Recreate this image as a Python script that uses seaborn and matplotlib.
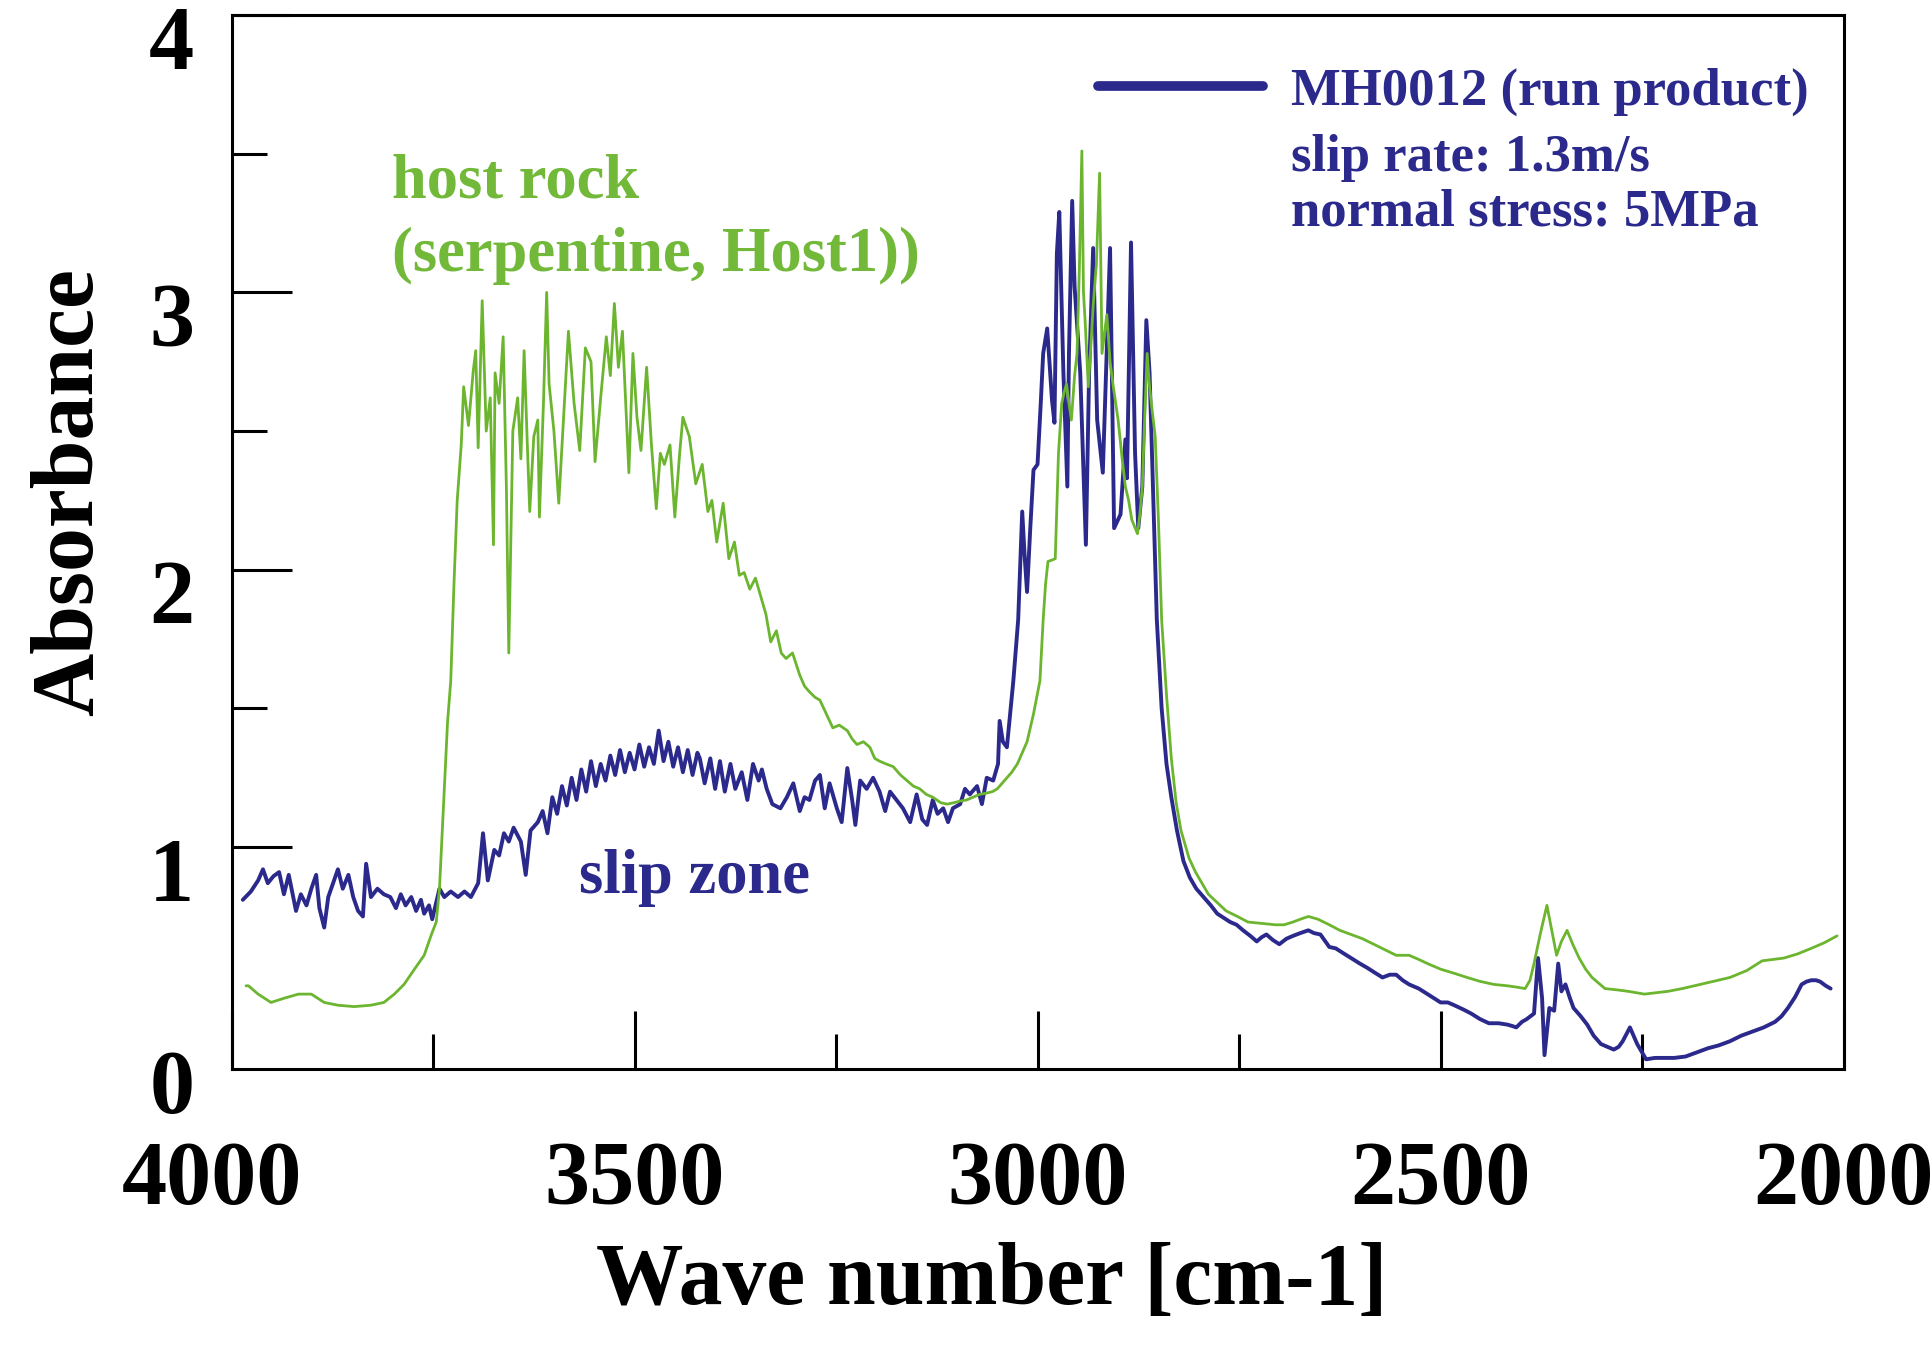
import matplotlib
matplotlib.use("Agg")
import matplotlib.pyplot as plt
import numpy as np
import pandas as pd
import seaborn as sns
from matplotlib.lines import Line2D
from matplotlib.transforms import ScaledTranslation

# ---- FT-IR spectra (wavenumber in cm-1, absorbance) ----
host_wavenumber = [
    3982, 3979, 3967, 3951, 3935, 3917, 3901, 3885, 3868, 3848,
    3827, 3811, 3798, 3786, 3773, 3761, 3752, 3746, 3742, 3738,
    3732, 3728, 3724, 3720, 3715, 3712, 3706, 3700, 3697, 3694,
    3689, 3684, 3679, 3675, 3673, 3668, 3663, 3659, 3656, 3651,
    3645, 3641, 3637, 3633, 3630, 3625, 3620, 3618, 3613, 3609,
    3606, 3600, 3594, 3588, 3582, 3575, 3568, 3561, 3554, 3549,
    3542, 3535, 3530, 3525, 3520, 3515, 3507, 3502, 3497, 3492,
    3485, 3479, 3473, 3468, 3463, 3456, 3450, 3444, 3440, 3432,
    3424, 3416, 3409, 3404, 3398, 3390, 3383, 3376, 3370, 3364,
    3357, 3350, 3343, 3337, 3331, 3324, 3318, 3312, 3304, 3295,
    3289, 3283, 3276, 3270, 3262, 3254, 3246, 3236, 3230, 3224,
    3216, 3208, 3202, 3196, 3188, 3179, 3170, 3162, 3154, 3146,
    3138, 3130, 3120, 3112, 3104, 3096, 3088, 3080, 3072, 3063,
    3056, 3050, 3044, 3038, 3032, 3025, 3019, 3013, 3009, 3005,
    3001, 2997, 2993, 2990, 2987, 2982, 2978, 2974, 2970, 2967,
    2964, 2961, 2958, 2954, 2951, 2948, 2945, 2943, 2941, 2937,
    2934, 2931, 2927, 2923, 2920, 2917, 2914, 2910, 2906, 2900,
    2895, 2891, 2887, 2883, 2876, 2873, 2870, 2867, 2864, 2861,
    2858, 2854, 2850, 2846, 2840, 2834, 2828, 2822, 2812, 2804,
    2796, 2788, 2777, 2766, 2752, 2739, 2722, 2705, 2694, 2683,
    2674, 2664, 2652, 2638, 2625, 2611, 2597, 2583, 2569, 2555,
    2539, 2527, 2516, 2500, 2483, 2467, 2451, 2434, 2417, 2405,
    2395, 2389, 2384, 2376, 2368, 2362, 2356, 2350, 2343, 2336,
    2328, 2320, 2312, 2304, 2296, 2280, 2267, 2247, 2232, 2218,
    2200, 2185, 2163, 2141, 2120, 2101, 2088, 2074, 2057, 2040,
    2024, 2008,
]
host_absorbance = [
    0.50, 0.50, 0.47, 0.44, 0.455, 0.47, 0.47, 0.44, 0.43, 0.425,
    0.43, 0.44, 0.47, 0.505, 0.56, 0.61, 0.685, 0.73, 0.85, 1.09,
    1.45, 1.60, 1.95, 2.25, 2.45, 2.66, 2.52, 2.72, 2.79, 2.44,
    2.97, 2.50, 2.62, 2.09, 2.71, 2.60, 2.84, 2.30, 1.70, 2.50,
    2.62, 2.40, 2.79, 2.45, 2.21, 2.48, 2.54, 2.19, 2.60, 3.00,
    2.67, 2.50, 2.24, 2.55, 2.86, 2.60, 2.43, 2.80, 2.75, 2.39,
    2.62, 2.84, 2.70, 2.96, 2.73, 2.86, 2.35, 2.78, 2.55, 2.43,
    2.73, 2.45, 2.22, 2.42, 2.38, 2.45, 2.19, 2.42, 2.55, 2.48,
    2.31, 2.38, 2.21, 2.25, 2.10, 2.24, 2.04, 2.10, 1.98, 1.99,
    1.93, 1.97, 1.90, 1.84, 1.74, 1.78, 1.70, 1.68, 1.70, 1.62,
    1.58, 1.56, 1.54, 1.53, 1.48, 1.43, 1.44, 1.42, 1.39, 1.37,
    1.38, 1.36, 1.32, 1.31, 1.30, 1.29, 1.26, 1.24, 1.22, 1.21,
    1.19, 1.18, 1.16, 1.155, 1.16, 1.166, 1.17, 1.18, 1.19, 1.195,
    1.20, 1.21, 1.23, 1.25, 1.27, 1.30, 1.34, 1.38, 1.43, 1.48,
    1.54, 1.60, 1.82, 1.95, 2.03, 2.035, 2.04, 2.42, 2.60, 2.64,
    2.67, 2.60, 2.54, 2.70, 2.78, 3.10, 3.51, 3.00, 2.90, 2.66,
    2.80, 2.95, 3.10, 3.43, 2.78, 2.85, 2.92, 2.75, 2.66, 2.54,
    2.40, 2.30, 2.25, 2.18, 2.13, 2.20, 2.30, 2.55, 2.78, 2.66,
    2.58, 2.48, 2.18, 1.82, 1.55, 1.32, 1.16, 1.06, 0.96, 0.91,
    0.87, 0.83, 0.80, 0.77, 0.75, 0.73, 0.725, 0.72, 0.72, 0.73,
    0.74, 0.75, 0.74, 0.72, 0.70, 0.685, 0.67, 0.65, 0.63, 0.61,
    0.61, 0.595, 0.58, 0.56, 0.545, 0.53, 0.516, 0.505, 0.50, 0.495,
    0.49, 0.52, 0.58, 0.69, 0.79, 0.70, 0.61, 0.66, 0.70, 0.65,
    0.60, 0.56, 0.53, 0.51, 0.49, 0.485, 0.48, 0.47, 0.475, 0.48,
    0.49, 0.50, 0.515, 0.53, 0.555, 0.59, 0.595, 0.60, 0.615, 0.635,
    0.655, 0.68,
]

slip_wavenumber = [
    3986, 3976, 3967, 3961, 3955, 3948, 3941, 3935, 3929, 3920,
    3914, 3907, 3901, 3895, 3891, 3885, 3880, 3874, 3868, 3862,
    3855, 3849, 3843, 3837, 3833, 3827, 3819, 3811, 3803, 3796,
    3790, 3784, 3777, 3771, 3765, 3761, 3755, 3751, 3742, 3736,
    3728, 3719, 3711, 3703, 3694, 3688, 3682, 3674, 3668, 3662,
    3656, 3650, 3641, 3635, 3629, 3620, 3614, 3608, 3602, 3596,
    3590, 3584, 3578, 3572, 3566, 3560, 3554, 3548, 3542, 3536,
    3530, 3524, 3518, 3512, 3506, 3500, 3494, 3488, 3482, 3476,
    3470, 3464, 3458, 3452, 3446, 3440, 3434, 3428, 3422, 3419,
    3413, 3406, 3400, 3394, 3388, 3381, 3375, 3367, 3360, 3353,
    3346, 3342, 3336, 3329, 3319, 3311, 3303, 3295, 3289, 3283,
    3276, 3270, 3264, 3258, 3249, 3243, 3236, 3230, 3226, 3220,
    3212, 3204, 3196, 3189, 3183, 3175, 3167, 3158, 3150, 3143,
    3137, 3130, 3124, 3117, 3111, 3105, 3096, 3090, 3084, 3075,
    3069, 3063, 3055, 3049, 3047, 3043, 3038, 3034, 3030, 3024,
    3019, 3016, 3013, 3009, 3005, 3000, 2996, 2993, 2988, 2982,
    2979, 2976, 2973, 2968, 2963, 2961, 2957, 2954, 2947, 2940,
    2936, 2931, 2926, 2919, 2910, 2905, 2897, 2891, 2889, 2884,
    2879, 2875, 2870, 2865, 2861, 2858, 2852, 2846, 2840, 2834,
    2827, 2819, 2811, 2803, 2794, 2785, 2777, 2769, 2761, 2753,
    2745, 2736, 2728, 2722, 2716, 2708, 2700, 2691, 2683, 2674,
    2664, 2657, 2649, 2638, 2630, 2622, 2611, 2600, 2591, 2583,
    2572, 2563, 2555, 2547, 2539, 2527, 2516, 2508, 2500, 2491,
    2483, 2472, 2462, 2451, 2440, 2428, 2417, 2411, 2406, 2399,
    2393, 2384, 2379, 2374, 2371, 2365, 2359, 2354, 2350, 2345,
    2340, 2335, 2326, 2318, 2310, 2301, 2293, 2285, 2279, 2274,
    2265, 2256, 2250, 2245, 2234, 2224, 2210, 2196, 2182, 2168,
    2155, 2141, 2127, 2113, 2099, 2085, 2077, 2069, 2060, 2052,
    2046, 2040, 2034, 2029, 2022, 2016,
]
slip_absorbance = [
    0.81, 0.84, 0.88, 0.92, 0.87, 0.895, 0.91, 0.83, 0.90, 0.77,
    0.83, 0.79, 0.85, 0.90, 0.78, 0.71, 0.82, 0.87, 0.92, 0.85,
    0.90, 0.82, 0.77, 0.75, 0.94, 0.82, 0.85, 0.83, 0.82, 0.78,
    0.83, 0.79, 0.82, 0.77, 0.81, 0.76, 0.79, 0.74, 0.85, 0.82,
    0.84, 0.82, 0.84, 0.82, 0.87, 1.05, 0.88, 0.99, 0.97, 1.05,
    1.02, 1.07, 1.02, 0.90, 1.06, 1.09, 1.13, 1.05, 1.18, 1.12,
    1.22, 1.15, 1.25, 1.17, 1.28, 1.20, 1.31, 1.22, 1.30, 1.24,
    1.33, 1.26, 1.35, 1.27, 1.34, 1.28, 1.37, 1.29, 1.36, 1.30,
    1.42, 1.31, 1.38, 1.29, 1.36, 1.27, 1.35, 1.26, 1.34, 1.32,
    1.23, 1.32, 1.21, 1.31, 1.20, 1.30, 1.21, 1.27, 1.17, 1.30,
    1.24, 1.28, 1.21, 1.155, 1.14, 1.18, 1.23, 1.13, 1.18, 1.17,
    1.24, 1.26, 1.14, 1.23, 1.14, 1.09, 1.285, 1.17, 1.08, 1.24,
    1.21, 1.25, 1.20, 1.13, 1.20, 1.17, 1.14, 1.09, 1.19, 1.10,
    1.08, 1.17, 1.12, 1.14, 1.09, 1.14, 1.155, 1.21, 1.19, 1.22,
    1.155, 1.25, 1.24, 1.30, 1.455, 1.38, 1.36, 1.48, 1.60, 1.82,
    2.21, 2.05, 1.92, 2.15, 2.36, 2.38, 2.60, 2.78, 2.87, 2.61,
    2.53, 3.14, 3.29, 2.72, 2.30, 2.78, 3.33, 3.02, 2.71, 2.09,
    2.71, 3.16, 2.54, 2.35, 3.16, 2.15, 2.20, 2.47, 2.33, 3.18,
    2.42, 2.15, 2.30, 2.90, 2.71, 2.42, 1.82, 1.50, 1.30, 1.18,
    1.06, 0.95, 0.89, 0.85, 0.82, 0.79, 0.76, 0.745, 0.73, 0.72,
    0.70, 0.68, 0.66, 0.675, 0.685, 0.665, 0.65, 0.67, 0.68, 0.69,
    0.70, 0.69, 0.685, 0.64, 0.635, 0.62, 0.60, 0.58, 0.565, 0.55,
    0.53, 0.54, 0.54, 0.52, 0.505, 0.49, 0.47, 0.455, 0.44, 0.44,
    0.43, 0.415, 0.40, 0.38, 0.365, 0.365, 0.36, 0.355, 0.35, 0.37,
    0.38, 0.40, 0.60, 0.455, 0.25, 0.42, 0.41, 0.58, 0.48, 0.505,
    0.46, 0.42, 0.39, 0.36, 0.32, 0.29, 0.28, 0.27, 0.28, 0.30,
    0.35, 0.29, 0.26, 0.235, 0.24, 0.24, 0.24, 0.245, 0.26, 0.275,
    0.285, 0.30, 0.32, 0.335, 0.35, 0.37, 0.39, 0.42, 0.46, 0.505,
    0.515, 0.52, 0.52, 0.515, 0.50, 0.49,
]

x_major_ticks = [4000, 3500, 3000, 2500, 2000]
x_minor_ticks = [3750, 3250, 2750, 2250]
y_major_ticks = [1, 2, 3, 4]
y_minor_ticks = [1.5, 2.5, 3.5]

BLUE = "#2b2a8c"
GREEN = "#6cb52f"
GREEN_TEXT = "#72b93a"

assert len(host_wavenumber) == len(host_absorbance)
assert len(slip_wavenumber) == len(slip_absorbance)

host = pd.DataFrame({"wavenumber": host_wavenumber, "absorbance": host_absorbance})
slip = pd.DataFrame({"wavenumber": slip_wavenumber, "absorbance": slip_absorbance})

sns.set_theme(style="white")
plt.rcParams["font.family"] = ["Liberation Serif", "DejaVu Serif"]
plt.rcParams["font.weight"] = "bold"
plt.rcParams["text.color"] = "black"
plt.rcParams["axes.labelcolor"] = "black"
plt.rcParams["axes.labelweight"] = "bold"

fig = plt.figure(figsize=(19.31, 13.45), dpi=100)
ax = fig.add_axes([0.1199, 0.2052, 0.8348, 0.7836])

sns.lineplot(data=slip, x="wavenumber", y="absorbance", ax=ax, color=BLUE,
             linewidth=2.8, estimator=None, sort=False, legend=False)
sns.lineplot(data=host, x="wavenumber", y="absorbance", ax=ax, color=GREEN,
             linewidth=2.0, estimator=None, sort=False, legend=False)

ax.set_xlim(4000, 2000)
ax.set_ylim(0.2, 4.0)

ax.set_xticks(x_major_ticks)
ax.set_xticklabels([str(v) for v in x_major_ticks])
ax.set_xticks(x_minor_ticks, minor=True)
ax.set_yticks(y_major_ticks)
ax.set_yticklabels([str(v) for v in y_major_ticks])
ax.set_yticks(y_minor_ticks, minor=True)

ax.tick_params(axis="both", which="both", direction="in", width=2.2,
               color="black", labelcolor="black",
               top=False, right=False, bottom=True, left=True)
ax.tick_params(axis="x", which="major", length=42, pad=52, labelsize=65)
ax.tick_params(axis="x", which="minor", length=25)
ax.tick_params(axis="y", which="major", length=43, pad=27, labelsize=65)
ax.tick_params(axis="y", which="minor", length=25)

for lbl in ax.get_xticklabels() + ax.get_yticklabels():
    lbl.set_fontweight("bold")

# y labels sit a little below their ticks
shift_down = ScaledTranslation(0, -0.22, fig.dpi_scale_trans)
for lbl in ax.get_yticklabels():
    lbl.set_transform(lbl.get_transform() + shift_down)

# the leftmost wavenumber label is set slightly to the left of its tick
first_x = ax.get_xticklabels()[0]
first_x.set_transform(first_x.get_transform()
                      + ScaledTranslation(-0.2, 0, fig.dpi_scale_trans))

# "0" printed at the lower end of the absorbance axis
ax.text(0, 0.2, "0", transform=ax.get_yaxis_transform()
        + ScaledTranslation(-0.37, -0.22, fig.dpi_scale_trans),
        ha="right", va="center", fontsize=65, fontweight="bold", color="black")

for spine in ax.spines.values():
    spine.set_color("black")
    spine.set_linewidth(2.2)
    spine.set_visible(True)

ax.set_xlabel("Wave number [cm-1]", fontsize=63, fontweight="bold")
ax.set_ylabel("Absorbance", fontsize=63, fontweight="bold")
ax.xaxis.set_label_coords(0.4718, -0.164)
ax.yaxis.set_label_coords(-0.0748, 0.547)

# legend for the run product
handle = Line2D([], [], color=BLUE, linewidth=7)
leg = fig.legend(handles=[handle], labels=["MH0012 (run product)"],
                 loc="upper left", bbox_to_anchor=(0.5686, 0.950),
                 frameon=False, borderpad=0, borderaxespad=0,
                 handlelength=3.12, handletextpad=0.53,
                 prop={"size": 38, "weight": "bold", "family": "Liberation Serif"})
for t in leg.get_texts():
    t.set_color(BLUE)

fig.text(0.6686, 0.8728, "slip rate: 1.3m/s", color=BLUE, fontsize=38,
         fontweight="bold", va="baseline", ha="left")
fig.text(0.6686, 0.8320, "normal stress: 5MPa", color=BLUE, fontsize=38,
         fontweight="bold", va="baseline", ha="left")

fig.text(0.2030, 0.8535, "host rock", color=GREEN_TEXT, fontsize=45,
         fontweight="bold", va="baseline", ha="left")
fig.text(0.2030, 0.7985, "(serpentine, Host1))", color=GREEN_TEXT, fontsize=45,
         fontweight="bold", va="baseline", ha="left")
fig.text(0.2998, 0.3361, "slip zone", color=BLUE, fontsize=45,
         fontweight="bold", va="baseline", ha="left")

fig.savefig("out.png", dpi=100, facecolor="white")
